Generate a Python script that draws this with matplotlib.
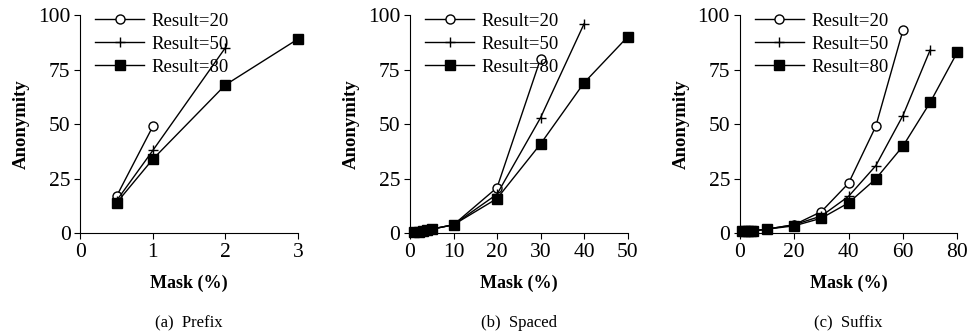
import matplotlib.pyplot as plt

plt.rcParams['font.family'] = ['Liberation Serif', 'DejaVu Serif']

# panel (a) Prefix
pre_x20 = [0.5, 1]
pre_y20 = [17, 49]
pre_x50 = [0.5, 1, 2]
pre_y50 = [15, 38, 85]
pre_x80 = [0.5, 1, 2, 3]
pre_y80 = [14, 34, 68, 89]

# panel (b) Spaced
spa_x20 = [1, 2, 3, 4, 5, 10, 20, 30]
spa_y20 = [0.5, 0.8, 1, 1.5, 2, 4, 21, 80]
spa_x50 = [1, 2, 3, 4, 5, 10, 20, 30, 40]
spa_y50 = [0.5, 0.8, 1, 1.5, 2, 4, 18, 53, 96]
spa_x80 = [1, 2, 3, 4, 5, 10, 20, 30, 40, 50]
spa_y80 = [0.5, 0.8, 1, 1.5, 2, 4, 16, 41, 69, 90]

# panel (c) Suffix
suf_x20 = [1, 2, 3, 4, 5, 10, 20, 30, 40, 50, 60]
suf_y20 = [1, 1, 1, 1, 1.2, 2, 4, 10, 23, 49, 93]
suf_x50 = [1, 2, 3, 4, 5, 10, 20, 30, 40, 50, 60, 70]
suf_y50 = [1, 1, 1, 1, 1.2, 2, 4, 8, 17, 31, 54, 84]
suf_x80 = [1, 2, 3, 4, 5, 10, 20, 30, 40, 50, 60, 70, 80]
suf_y80 = [1, 1, 1, 1, 1.2, 2, 3.5, 7, 14, 25, 40, 60, 83]

labels = ['Result=20', 'Result=50', 'Result=80']
yticks = [0, 25, 50, 75, 100]

panels = [
    ('(a)  Prefix', [(pre_x20, pre_y20), (pre_x50, pre_y50), (pre_x80, pre_y80)], [0, 1, 2, 3], 3),
    ('(b)  Spaced', [(spa_x20, spa_y20), (spa_x50, spa_y50), (spa_x80, spa_y80)], [0, 10, 20, 30, 40, 50], 50),
    ('(c)  Suffix', [(suf_x20, suf_y20), (suf_x50, suf_y50), (suf_x80, suf_y80)], [0, 20, 40, 60, 80], 80),
]

fig = plt.figure(figsize=(9.67, 3.35), dpi=100)
lefts = [0.083, 0.424, 0.765]
styles = [dict(marker='o', mfc='white', ms=6.5),
          dict(marker='+', ms=7, mew=1.0),
          dict(marker='s', mfc='black', ms=7)]

for left, (cap, series, xt, xmax) in zip(lefts, panels):
    ax = fig.add_axes([left, 0.303, 0.225, 0.652])
    for (x, y), st, lab in zip(series, styles, labels):
        ax.plot(x, y, color='black', lw=1.0, mec='black', label=lab, clip_on=False, **st)
    ax.set_xlim(0, xmax)
    ax.set_ylim(0, 100)
    ax.set_xticks(xt)
    ax.set_yticks(yticks)
    ax.spines['top'].set_visible(False)
    ax.spines['right'].set_visible(False)
    ax.tick_params(direction='out', length=4, labelsize=15.5, pad=3)
    ax.set_xlabel('Mask (%)', fontsize=13, fontweight='bold', labelpad=9)
    ax.set_ylabel('Anonymity', fontsize=13.5, fontweight='bold', labelpad=6)
    ax.legend(loc='upper left', bbox_to_anchor=(0.07, 1.01), frameon=False, borderpad=0,
              borderaxespad=0, fontsize=13.5, handlelength=2.6, handletextpad=0.4,
              labelspacing=0.3)
    ax.text(0.5, -0.41, cap, transform=ax.transAxes, ha='center', va='center', fontsize=12)

fig.savefig('out.png', dpi=100)
